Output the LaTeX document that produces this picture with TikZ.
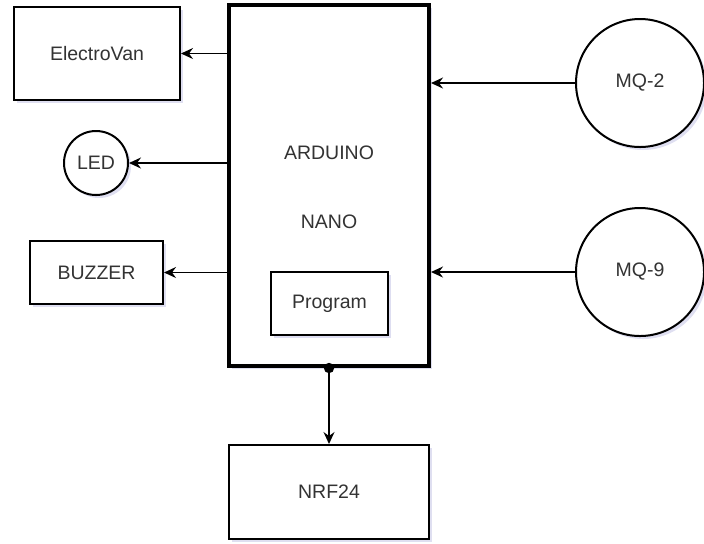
\documentclass[tikz,border=0pt]{standalone}
\usepackage{fontspec}
\setmainfont{Liberation Sans}
\usepackage{tikz}
\usetikzlibrary{calc}
\usetikzlibrary{positioning}
\usetikzlibrary{arrows.meta,shadows}

\tikzset{
    blk/.style={draw, line width=1pt, fill=white, text=black!80, font=\fontsize{9.75}{12}\selectfont,
        drop shadow={shadow xshift=1.5pt, shadow yshift=-1.5pt, opacity=.18, fill=blue!40!gray}},
    rnd/.style={blk, circle, inner sep=0pt},
    lbl/.style={text=black!80, font=\fontsize{9.75}{12}\selectfont},
    con/.style={line width=.75pt, -{Stealth[length=6pt, width=5.5pt, inset=2pt]}}
}

\begin{document}
\begin{tikzpicture}[x=0.5pt, y=-0.5pt]
    \useasboundingbox (0,0) rectangle (704,543);

    \node[blk, minimum width=83pt, minimum height=46.5pt] (ev) at (97,53.5) {ElectroVan};
    \node[rnd, minimum size=32pt] (led) at (96,163) {LED};
    \node[blk, minimum width=66.5pt, minimum height=31.5pt] (bz) at (96.5,272.5) {BUZZER};

    \node[blk, line width=2pt, minimum width=100pt, minimum height=180.5pt] (ard) at (329,185.5) {};
    \node[lbl] (ardname) at (329,153) {ARDUINO};
    \node[lbl] (nano) at (329,222) {NANO};
    \node[blk, minimum width=58.5pt, minimum height=31.5pt, drop shadow={opacity=0}] (prog) at (329.5,303.5) {Program};

    \node[rnd, minimum size=64pt] (mq2) at (640,83) {MQ-2};
    \node[rnd, minimum size=64pt] (mq9) at (640,272) {MQ-9};

    \node[blk, minimum width=100pt, minimum height=47pt] (nrf) at (329,492) {NRF24};

    \draw[con] (ev.east -| ard.west) -- (ev.east);
    \draw[con] (led.east -| ard.west) -- (led.east);
    \draw[con] (bz.east -| ard.west) -- (bz.east);

    \draw[con] (mq2.west) -- (mq2.west -| ard.east);
    \draw[con] (mq9.west) -- (mq9.west -| ard.east);

    \fill (ard.south) circle (2.6pt);
    \draw[con] (ard.south) -- (nrf.north);

\end{tikzpicture}
\end{document}
